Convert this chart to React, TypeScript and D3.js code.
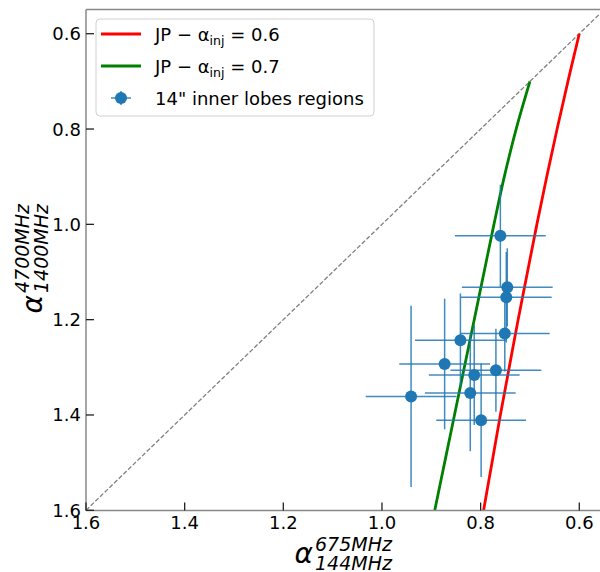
import React from "react";
import * as d3 from "d3";

const W = 600;
const H = 572;

// measured points (alpha low-freq, alpha high-freq)
const ptX = [0.760, 0.746, 0.748, 0.751, 0.841, 0.873, 0.769, 0.813, 0.821, 0.941, 0.799];
const ptY = [1.024, 1.132, 1.153, 1.229, 1.243, 1.293, 1.306, 1.316, 1.354, 1.361, 1.411];
const ptXErr = [0.092, 0.092, 0.092, 0.091, 0.092, 0.092, 0.092, 0.092, 0.092, 0.092, 0.091];
const ptYErr = [0.107, 0.082, 0.095, 0.080, 0.098, 0.137, 0.087, 0.105, 0.122, 0.19, 0.119];

// JP model tracks
const jp06X = [0.600, 0.623, 0.645, 0.666, 0.686, 0.705, 0.724, 0.742, 0.760, 0.777, 0.794];
const jp06Y = [0.60, 0.70, 0.80, 0.90, 1.00, 1.10, 1.20, 1.30, 1.40, 1.50, 1.60];
const jp07X = [0.700, 0.728, 0.752, 0.773, 0.793, 0.813, 0.833, 0.853, 0.873, 0.893];
const jp07Y = [0.70, 0.80, 0.90, 1.00, 1.10, 1.20, 1.30, 1.40, 1.50, 1.60];

const diagVals = [1.6, 0.5];
const tickVals = [1.6, 1.4, 1.2, 1.0, 0.8, 0.6];

const FONT = "DejaVu Sans";
const BLUE = "#1f77b4";

export default function App() {
  const left = 86, right = 601, top = 9.5, bottom = 510.5;
  const x = d3.scaleLinear().domain([1.6, 0.556]).range([86, 601]);
  const y = d3.scaleLinear().domain([0.549, 1.6]).range([9.4, 510.3]);

  const line = d3
    .line<[number, number]>()
    .x((d) => x(d[0]))
    .y((d) => y(d[1]))
    .curve(d3.curveCatmullRom);

  const jp06 = line(jp06X.map((v, i) => [v, jp06Y[i]]));
  const jp07 = line(jp07X.map((v, i) => [v, jp07Y[i]]));
  const diag = d3
    .line<number>()
    .x((d) => x(d))
    .y((d) => y(d))(diagVals);

  const fmt = d3.format(".1f");

  return (
    <svg
      width={W}
      height={H}
      style={{ position: "absolute", left: 0, top: 0, background: "#fff" }}
      fontFamily={FONT}
    >
      <defs>
        <clipPath id="plotclip">
          <rect x={left} y={top} width={right - left} height={bottom - top} />
        </clipPath>
      </defs>
      <rect x={0} y={0} width={W} height={H} fill="#fff" />

      <g clipPath="url(#plotclip)">
        <path d={diag || ""} fill="none" stroke="#808080" strokeWidth={1.3} strokeDasharray="4.5,2" />
        <path d={jp06 || ""} fill="none" stroke="#ff0000" strokeWidth={2.8} />
        <path d={jp07 || ""} fill="none" stroke="#008000" strokeWidth={2.8} />
        {ptX.map((v, i) => (
          <g key={i}>
            <line
              x1={x(v - ptXErr[i])}
              x2={x(v + ptXErr[i])}
              y1={y(ptY[i])}
              y2={y(ptY[i])}
              stroke={BLUE}
              strokeWidth={1.5}
              strokeOpacity={0.85}
            />
            <line
              x1={x(v)}
              x2={x(v)}
              y1={y(ptY[i] - ptYErr[i])}
              y2={y(ptY[i] + ptYErr[i])}
              stroke={BLUE}
              strokeWidth={1.5}
              strokeOpacity={0.85}
            />
          </g>
        ))}
        {ptX.map((v, i) => (
          <circle key={"c" + i} cx={x(v)} cy={y(ptY[i])} r={6} fill={BLUE} />
        ))}
      </g>

      {/* spines */}
      <line x1={left} x2={left} y1={top} y2={bottom} stroke="#888" strokeWidth={1.5} />
      <line x1={left} x2={right} y1={bottom} y2={bottom} stroke="#888" strokeWidth={1.5} />
      <line x1={left} x2={right} y1={top} y2={top} stroke="#888" strokeWidth={1.5} />

      {/* x ticks */}
      {tickVals.map((t) => (
        <g key={"xt" + t}>
          <line x1={x(t)} x2={x(t)} y1={bottom} y2={bottom - 8} stroke="#222" strokeWidth={1.3} />
          <text x={x(t)} y={529} textAnchor="middle" fontSize={18} fill="#000">
            {fmt(t)}
          </text>
        </g>
      ))}
      {/* y ticks */}
      {tickVals.map((t) => (
        <g key={"yt" + t}>
          <line x1={left} x2={left + 8} y1={y(t)} y2={y(t)} stroke="#222" strokeWidth={1.3} />
          <text x={81} y={y(t)} dy="0.36em" textAnchor="end" fontSize={18} fill="#000">
            {fmt(t)}
          </text>
        </g>
      ))}

      {/* x label */}
      <g transform="translate(343,563)">
        <text x={-30} y={0} textAnchor="end" fontSize={28} fontStyle="italic" fill="#000">
          α
        </text>
        <text x={-28} y={-12} fontSize={19} fontStyle="italic" fill="#000">
          675MHz
        </text>
        <text x={-28} y={7} fontSize={19} fontStyle="italic" fill="#000">
          144MHz
        </text>
      </g>

      {/* y label */}
      <g transform="translate(42,260) rotate(-90)">
        <text x={-35} y={0} textAnchor="end" fontSize={28} fontStyle="italic" fill="#000">
          α
        </text>
        <text x={-33} y={-13} fontSize={19} fontStyle="italic" fill="#000">
          4700MHz
        </text>
        <text x={-33} y={6} fontSize={19} fontStyle="italic" fill="#000">
          1400MHz
        </text>
      </g>

      {/* legend */}
      <g>
        <rect x={96} y={19} width={278} height={97} rx={4} fill="#fff" fillOpacity={0.8} stroke="#d0d0d0" strokeWidth={1} />
        <line x1={101} x2={141} y1={34} y2={34} stroke="#ff0000" strokeWidth={2.8} />
        <text x={155} y={40.5} fontSize={18} fill="#000">
          JP − α<tspan dy={4} fontSize={12.6}>inj</tspan>
          <tspan dy={-4}> = 0.6</tspan>
        </text>
        <line x1={101} x2={141} y1={66} y2={66} stroke="#008000" strokeWidth={2.8} />
        <text x={155} y={72.5} fontSize={18} fill="#000">
          JP − α<tspan dy={4} fontSize={12.6}>inj</tspan>
          <tspan dy={-4}> = 0.7</tspan>
        </text>
        <line x1={111} x2={131} y1={98} y2={98} stroke={BLUE} strokeWidth={1.5} strokeOpacity={0.85} />
        <line x1={121} x2={121} y1={91} y2={105} stroke={BLUE} strokeWidth={1.5} strokeOpacity={0.85} />
        <circle cx={121} cy={98} r={6} fill={BLUE} />
        <text x={155} y={104.5} fontSize={18} fill="#000">
          14" inner lobes regions
        </text>
      </g>
    </svg>
  );
}
